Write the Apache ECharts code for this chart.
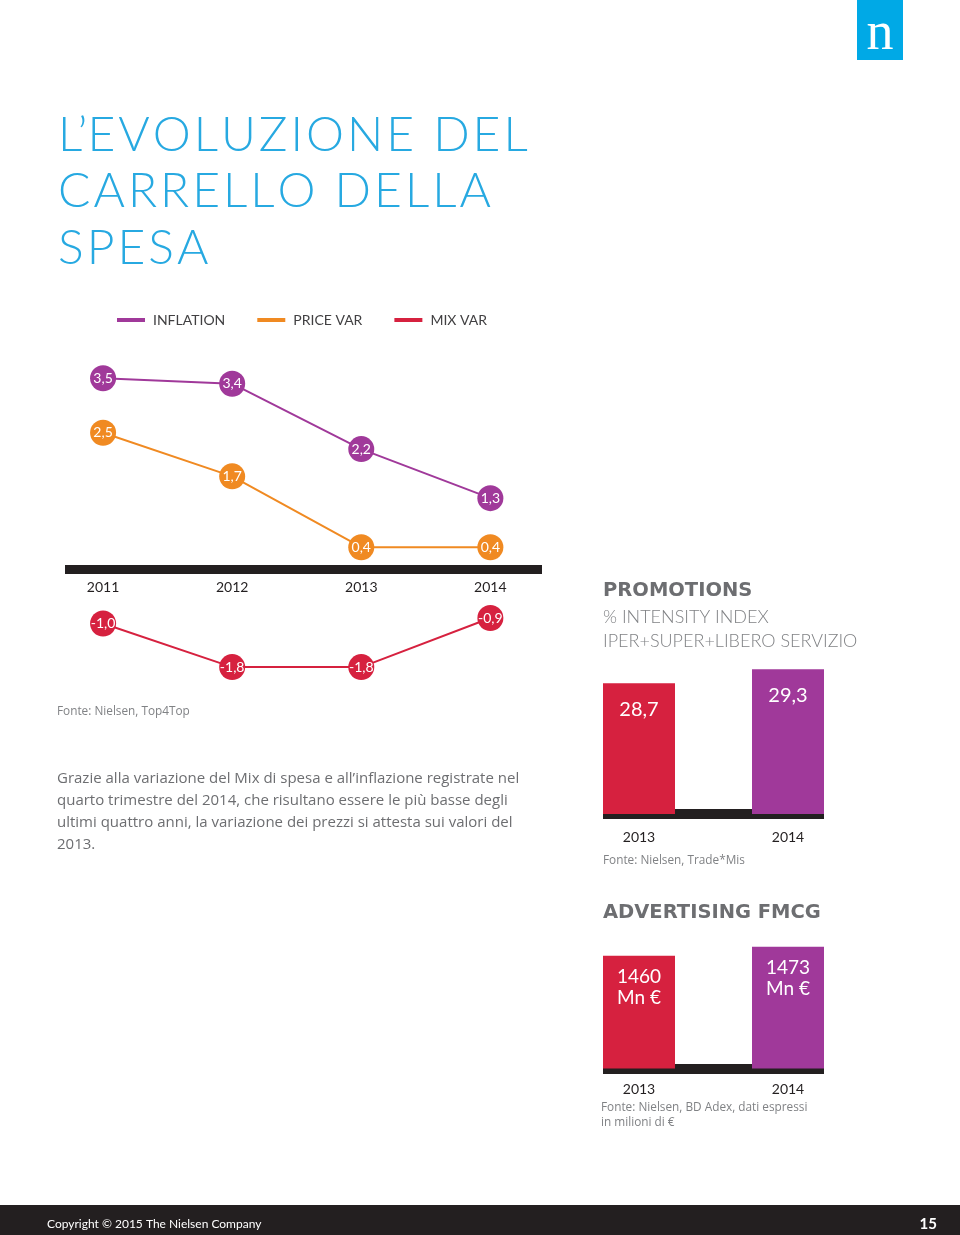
<!DOCTYPE html>
<html><head><meta charset="utf-8">
<script src="https://cdn.jsdelivr.net/npm/echarts@6/dist/echarts.min.js"></script>
<style>html,body{margin:0;padding:0;background:#fff}#c{width:960px;height:1235px}</style>
</head><body><div id="c"></div>
<script>
// ---- data ----
const years = ['2011', '2012', '2013', '2014'];
const inflation = [3.5, 3.4, 2.2, 1.3];
const priceVar = [2.5, 1.7, 0.4, 0.4];
const mixVar = [-1.0, -1.8, -1.8, -0.9];
const seriesNames = ['INFLATION', 'PRICE VAR', 'MIX VAR'];
const promoYears = ['2013', '2014'];
const promoValues = [28.7, 29.3];
const advYears = ['2013', '2014'];
const advValues = [1460, 1473];

// ---- styles ----
const PURPLE = '#a0399a', ORANGE = '#f08a22', CRIMSON = '#d6213f', DARK = '#231f20';
const BLUE = '#27a9e1', GREY = '#6d6e71', LGREY = '#808285';
const FONT = 'Lato', BODY = 'Open Sans';
const barColors = [CRIMSON, PURPLE];

const fmt1 = v => v.toFixed(1).replace('.', ',');
// widen tracking of display text with hair spaces (not around the apostrophe)
const track = s => {
  const ch = Array.from(s);
  let out = ch[0];
  for (let i = 1; i < ch.length; i++) {
    out += (ch[i] === '’' || ch[i - 1] === '’') ? ch[i] : '\u200A' + ch[i];
  }
  return out;
};

function lineSeries(name, vals, color) {
  return {
    name: name, type: 'line', xAxisIndex: 0, yAxisIndex: 0,
    data: vals.map((v, i) => [i, v]),
    symbol: 'circle', symbolSize: 26,
    lineStyle: { color: color, width: 2 },
    itemStyle: { color: color },
    label: { show: true, position: 'inside', color: '#fff', fontSize: 14, fontFamily: FONT,
      formatter: p => fmt1(p.value[1]) },
    z: 3
  };
}

function barAxisX(idx, cats, margin) {
  return {
    type: 'value', gridIndex: idx, min: -0.2416, max: 1.2416,
    axisLine: { show: true, lineStyle: { color: DARK, width: 10, cap: 'butt' } },
    axisTick: { show: false }, splitLine: { show: false },
    axisLabel: { customValues: [0, 1], formatter: v => cats[Math.round(v)] || '',
      color: DARK, fontSize: 14, fontFamily: FONT, margin: margin }
  };
}

function txt(text, x, y, size, color, weight, font) {
  return { type: 'text', x: x, y: y, silent: true,
    style: { text: text, fill: color, fontSize: size, fontWeight: weight || 'normal',
      fontFamily: font || FONT, verticalAlign: 'middle', align: 'left' } };
}

const option = {
  animation: false,
  backgroundColor: '#fff',
  legend: {
    left: 117, top: 313, padding: 0, icon: 'rect', itemWidth: 28, itemHeight: 4, itemGap: 32,
    data: seriesNames,
    textStyle: { color: '#414042', fontSize: 14, fontFamily: FONT, padding: [0, 0, 0, 3] },
    selectedMode: false
  },
  grid: [
    { left: 65, width: 477, top: 351, height: 327 },
    { left: 603, width: 221, top: 653, height: 161 },
    { left: 603, width: 221, top: 928, height: 140.5 }
  ],
  xAxis: [
    {
      type: 'value', gridIndex: 0, min: -0.295, max: 3.4, offset: -109,
      axisLine: { show: true, onZero: false, lineStyle: { color: DARK, width: 9, cap: 'butt' } },
      axisTick: { show: false }, splitLine: { show: false },
      axisLabel: { customValues: [0, 1, 2, 3], formatter: v => years[Math.round(v)] || '',
        color: DARK, fontSize: 14, fontFamily: FONT, margin: 11 }
    },
    barAxisX(1, promoYears, 16),
    barAxisX(2, advYears, 14)
  ],
  yAxis: [
    { type: 'value', gridIndex: 0, min: -2, max: 4, show: false },
    { type: 'value', gridIndex: 1, min: 23.1, max: 30.0, show: false },
    { type: 'value', gridIndex: 2, min: 1297, max: 1500, show: false }
  ],
  series: [
    lineSeries(seriesNames[2], mixVar, CRIMSON),
    lineSeries(seriesNames[1], priceVar, ORANGE),
    lineSeries(seriesNames[0], inflation, PURPLE),
    {
      type: 'bar', xAxisIndex: 1, yAxisIndex: 1, barWidth: 72,
      data: promoValues.map((v, i) => ({ value: [i, v], itemStyle: { color: barColors[i] } })),
      label: { show: true, position: 'insideTop', distance: 16, color: '#fff', fontSize: 20,
        fontFamily: FONT, formatter: p => fmt1(p.value[1]) },
      z: 1
    },
    {
      type: 'bar', xAxisIndex: 2, yAxisIndex: 2, barWidth: 72,
      data: advValues.map((v, i) => ({ value: [i, v], itemStyle: { color: barColors[i] } })),
      label: { show: true, position: 'insideTop', distance: 11, color: '#fff', fontSize: 19,
        lineHeight: 21, fontFamily: FONT, formatter: p => p.value[1] + '\nMn €' },
      z: 1
    }
  ],
  graphic: [
    { type: 'rect', shape: { x: 857, y: 0, width: 46, height: 60 }, style: { fill: '#00a9e6' }, silent: true },
    { type: 'text', x: 880, y: 35, silent: true,
      style: { text: 'n', fill: '#fff', fontSize: 54, fontFamily: 'Liberation Serif', align: 'center', verticalAlign: 'middle' } },
    txt(track('L’EVOLUZIONE DEL'), 58, 136, 48, BLUE, 300),
    txt(track('CARRELLO DELLA'), 58, 192, 48, BLUE, 300),
    txt(track('SPESA'), 58, 249, 48, BLUE, 300),
    txt('Fonte: Nielsen, Top4Top', 57, 712, 11.8, LGREY, 'normal', BODY),
    txt('Grazie alla variazione del Mix di spesa e all’inflazione registrate nel', 57, 779, 15, GREY, 'normal', BODY),
    txt('quarto trimestre del 2014, che risultano essere le più basse degli', 57, 801, 15, GREY, 'normal', BODY),
    txt('ultimi quattro anni, la variazione dei prezzi si attesta sui valori del', 57, 823, 15, GREY, 'normal', BODY),
    txt('2013.', 57, 845, 15, GREY, 'normal', BODY),
    txt('PROMOTIONS', 603, 591, 19.5, GREY, 'bold', 'DejaVu Sans'),
    txt('% INTENSITY INDEX', 603, 617, 18, LGREY, 300),
    txt('IPER+SUPER+LIBERO SERVIZIO', 603, 641, 18, LGREY, 300),
    txt('Fonte: Nielsen, Trade*Mis', 603, 861, 11.8, LGREY, 'normal', BODY),
    txt('ADVERTISING FMCG', 603, 913, 19.5, GREY, 'bold', 'DejaVu Sans'),
    txt('Fonte: Nielsen, BD Adex, dati espressi', 601, 1108, 11.8, LGREY, 'normal', BODY),
    txt('in milioni di €', 601, 1123, 11.8, LGREY, 'normal', BODY),
    { type: 'rect', shape: { x: 0, y: 1205, width: 960, height: 30 }, style: { fill: DARK }, silent: true },
    txt('Copyright © 2015 The Nielsen Company', 47, 1224, 12, '#fff'),
    { type: 'text', x: 937, y: 1224, silent: true,
      style: { text: '15', fill: '#fff', fontSize: 15, fontWeight: 'bold', fontFamily: FONT, align: 'right', verticalAlign: 'middle' } }
  ]
};

echarts.init(document.getElementById('c')).setOption(option);
</script>
</body></html>
